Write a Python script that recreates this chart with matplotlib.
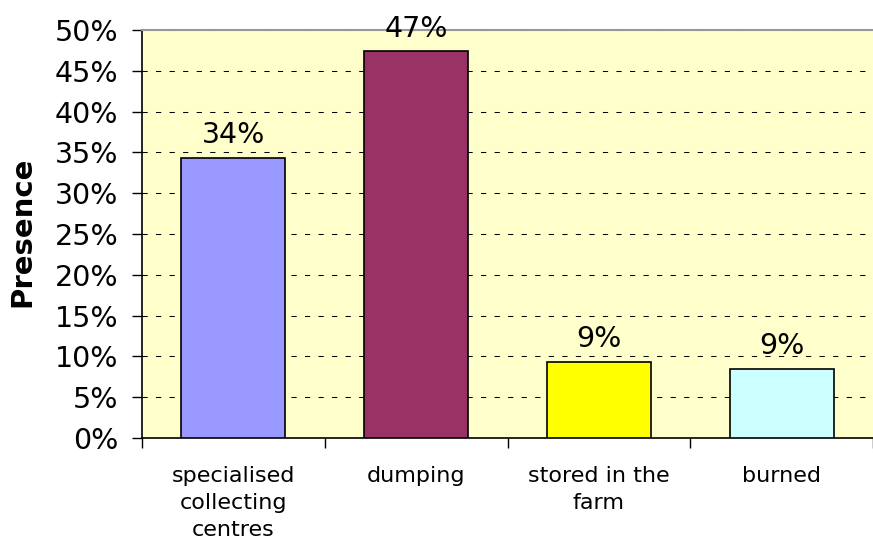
import matplotlib
matplotlib.use("Agg")
import matplotlib.pyplot as plt
from matplotlib.ticker import FixedLocator, PercentFormatter

categories = ["specialised\ncollecting\ncentres", "dumping", "stored in the\nfarm", "burned"]
values = [34.35, 47.4, 9.35, 8.5]
labels = ["34%", "47%", "9%", "9%"]
colors = ["#9999FF", "#993366", "#FFFF00", "#CCFFFF"]
yticks = [0, 5, 10, 15, 20, 25, 30, 35, 40, 45, 50]

fig = plt.figure(figsize=(8.73, 5.43), dpi=100)
ax = fig.add_axes([142 / 873, 105 / 543, 731 / 873, 408 / 543])
ax.set_facecolor("#FFFFCC")

x = list(range(len(categories)))
ax.set_axisbelow(True)
ax.yaxis.grid(True, color="black", linewidth=0.75, linestyle=(0, (5, 8)))
bars = ax.bar(x, values, width=0.57, color=colors, edgecolor="black", linewidth=1.2, zorder=3)

for b, lab in zip(bars, labels):
    ax.annotate(lab, (b.get_x() + b.get_width() / 2, b.get_height()),
                xytext=(0, 6), textcoords="offset points", ha="center", va="bottom",
                fontsize=20.5, color="black", clip_on=False, annotation_clip=False, zorder=5)

ax.set_xlim(-0.5, len(categories) - 0.5)
ax.set_ylim(0, 50)
ax.yaxis.set_major_locator(FixedLocator(yticks))
ax.yaxis.set_major_formatter(PercentFormatter(decimals=0))
ax.tick_params(axis="y", labelsize=20.5, length=7, width=1, pad=10, color="black")

ax.set_xticks(x)
ax.set_xticklabels(categories, fontsize=16, linespacing=1.45)
ax.tick_params(axis="x", which="major", length=0, pad=20)
ax.set_xticks([i - 0.5 for i in range(len(categories) + 1)], minor=True)
ax.tick_params(axis="x", which="minor", length=7, width=1, color="black")

for side in ["left", "bottom"]:
    ax.spines[side].set_color("black")
    ax.spines[side].set_linewidth(1.2)
ax.spines["top"].set_color("#999999")
ax.spines["top"].set_linewidth(1.5)
ax.spines["right"].set_visible(False)

fig.text(22 / 873, 1 - 232 / 543, "Presence", rotation=90, ha="center", va="center",
         fontsize=21, fontweight="bold")

fig.savefig("out.png", dpi=100)
